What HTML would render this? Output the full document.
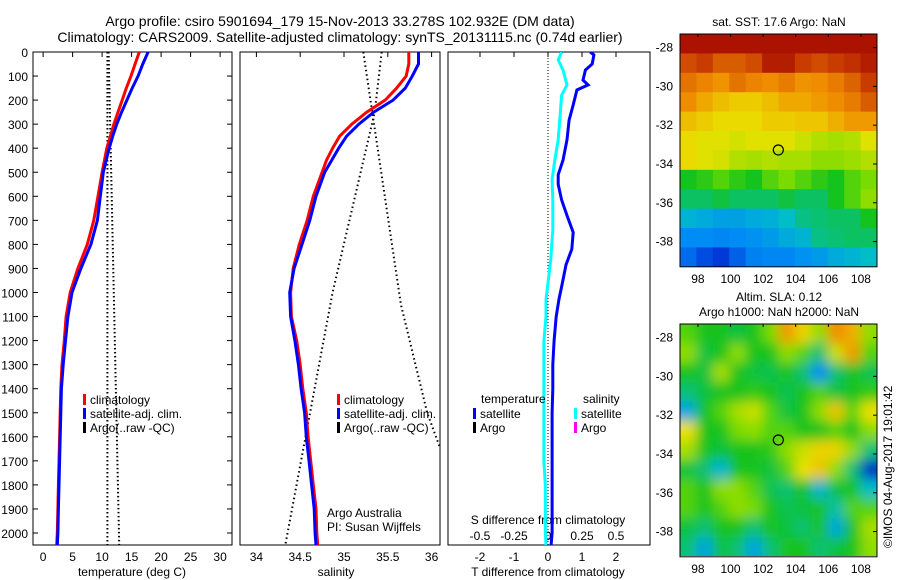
<!DOCTYPE html>
<html><head><meta charset="utf-8">
<style>
html,body{margin:0;padding:0;background:#fff;}
svg{display:block;font-family:"Liberation Sans",sans-serif;}
</style></head>
<body>
<svg id="fig" width="900" height="580" viewBox="0 0 900 580">
<defs>
<clipPath id="c1"><rect x="33" y="52" width="199" height="493"/></clipPath>
<clipPath id="c2"><rect x="240" y="52" width="200" height="493"/></clipPath>
<clipPath id="c3"><rect x="448" y="52" width="202" height="493"/></clipPath>
<clipPath id="cm1"><rect x="680" y="34" width="197" height="233"/></clipPath>
<clipPath id="cm2"><rect x="680" y="324" width="197" height="232"/></clipPath>
<filter id="blur" x="-10%" y="-10%" width="120%" height="120%"><feGaussianBlur stdDeviation="6"/></filter>
</defs>
<text x="340" y="26" text-anchor="middle" font-size="14">Argo profile: csiro 5901694_179 15-Nov-2013 33.278S 102.932E (DM data)</text>
<text x="340" y="42" text-anchor="middle" font-size="14">Climatology: CARS2009. Satellite-adjusted climatology: synTS_20131115.nc (0.74d earlier)</text>
<text x="779" y="26" text-anchor="middle" font-size="12">sat. SST: 17.6 Argo: NaN</text>
<text x="779" y="301" text-anchor="middle" font-size="12">Altim. SLA: 0.12</text>
<text x="779" y="316" text-anchor="middle" font-size="12">Argo h1000: NaN h2000: NaN</text>
<text x="0" y="0" transform="translate(892,548) rotate(-90)" font-size="12">©IMOS 04-Aug-2017 19:01:42</text>
<g id="g"></g>
</svg>
<script>
// ---------- data ----------
const depths = [0,50,100,150,200,250,300,350,400,450,500,600,700,800,900,1000,1100,1200,1300,1400,1500,1600,1700,1800,1900,2000,2050];
const tempClim = [16.3,15.6,14.9,14.1,13.4,12.7,12.0,11.4,10.8,10.4,10.0,9.3,8.6,7.5,5.9,4.6,3.9,3.6,3.2,3.0,2.9,2.8,2.7,2.6,2.5,2.4,2.3];
const tempSat  = [17.8,16.9,16.1,15.1,14.2,13.3,12.5,11.8,11.2,10.7,10.2,9.7,9.2,8.1,6.4,4.9,4.2,3.8,3.4,3.1,3.0,2.9,2.8,2.7,2.6,2.5,2.4];
const salClim = [35.74,35.74,35.71,35.60,35.47,35.26,35.09,34.95,34.87,34.80,34.75,34.65,34.58,34.49,34.42,34.39,34.40,34.46,34.50,34.53,34.57,34.59,34.62,34.65,34.68,34.69,34.70];
const salSat  = [35.85,35.85,35.78,35.70,35.56,35.34,35.17,35.03,34.94,34.86,34.78,34.68,34.61,34.52,34.43,34.38,34.39,34.44,34.48,34.51,34.55,34.57,34.60,34.63,34.66,34.67,34.68];
const argoTDepths = [0,2050];
const argoT1 = [10.9,10.9];
const argoT2 = [11.1,12.9];
const argoSDepthsA = [0,250,1000,2050];
const argoSA = [35.43,35.35,34.87,34.33];
const argoSDepthsB = [0,1050,1500,1650];
const argoSB = [35.22,35.65,35.95,36.10];
const diffDepths = [0,12,50,75,117,137,158,220,283,365,450,510,550,615,680,750,820,885,970,1030,1100,1200,1300,1400,1500,1700,2000,2050];
const tDiffSat = [1.24,1.35,1.30,1.10,1.03,1.18,0.85,0.74,0.62,0.56,0.44,0.30,0.30,0.40,0.56,0.74,0.70,0.53,0.41,0.32,0.24,0.18,0.14,0.14,0.12,0.12,0.12,0.09];
const sDiffDepths = [0,33,75,137,180,260,365,450,530,615,740,865,1030,1100,1200,1700,1800,2000,2050];
const sDiffSat = [0.10,0.075,0.11,0.14,0.10,0.09,0.075,0.05,0.03,0.035,0.035,0.02,-0.015,-0.015,-0.03,-0.03,-0.02,-0.02,-0.015];
const depthTicks = [0,100,200,300,400,500,600,700,800,900,1000,1100,1200,1300,1400,1500,1600,1700,1800,1900,2000];
const tempTicks = [0,5,10,15,20,25,30];
const salTicks = [34,34.5,35,35.5,36];
const salTickLabels = ["34","34.5","35","35.5","36"];
const tDiffTicks = [-2,-1,0,1,2];
const sDiffTicks = [-0.5,-0.25,0,0.25,0.5];
const sDiffTickLabels = ["-0.5","-0.25","0","0.25","0.5"];
const latTicks = [-28,-30,-32,-34,-36,-38];
const lonTicks = [98,100,102,104,106,108];
const argoLon = 102.932, argoLat = -33.278;
const sstGrid = [
[0.97,0.97,0.97,0.97,0.97,0.97,0.97,0.97,0.97,0.97,0.97,0.97],
[0.88,0.9,0.86,0.86,0.88,0.95,0.95,0.9,0.88,0.9,0.92,0.95],
[0.83,0.81,0.79,0.83,0.81,0.8,0.82,0.79,0.8,0.82,0.85,0.9],
[0.8,0.76,0.73,0.71,0.71,0.73,0.76,0.76,0.78,0.8,0.82,0.86],
[0.73,0.71,0.69,0.69,0.69,0.71,0.71,0.72,0.72,0.75,0.78,0.78],
[0.69,0.67,0.67,0.66,0.67,0.67,0.67,0.65,0.63,0.62,0.63,0.67],
[0.69,0.67,0.66,0.63,0.62,0.63,0.62,0.62,0.6,0.6,0.61,0.63],
[0.5,0.52,0.55,0.52,0.5,0.55,0.58,0.55,0.52,0.5,0.55,0.58],
[0.46,0.46,0.48,0.46,0.46,0.46,0.48,0.46,0.46,0.5,0.55,0.6],
[0.38,0.36,0.34,0.34,0.36,0.37,0.4,0.44,0.45,0.46,0.46,0.5],
[0.3,0.3,0.29,0.3,0.31,0.33,0.36,0.38,0.44,0.45,0.46,0.46],
[0.24,0.18,0.14,0.22,0.28,0.29,0.29,0.31,0.33,0.36,0.38,0.4]];
const slaGrid = [
[0.55,0.5,0.5,0.48,0.5,0.58,0.78,0.7,0.6,0.8,0.75,0.6],
[0.6,0.48,0.5,0.6,0.5,0.5,0.6,0.55,0.45,0.65,0.78,0.55],
[0.5,0.48,0.62,0.5,0.48,0.47,0.5,0.45,0.3,0.45,0.5,0.47],
[0.45,0.48,0.5,0.5,0.52,0.5,0.47,0.5,0.55,0.48,0.5,0.52],
[0.35,0.5,0.55,0.62,0.65,0.55,0.48,0.5,0.6,0.72,0.55,0.68],
[0.68,0.5,0.5,0.58,0.6,0.55,0.55,0.5,0.5,0.55,0.5,0.6],
[0.62,0.5,0.48,0.5,0.5,0.52,0.6,0.65,0.7,0.7,0.6,0.45],
[0.48,0.45,0.38,0.5,0.5,0.48,0.55,0.68,0.72,0.6,0.45,0.1],
[0.55,0.5,0.6,0.6,0.55,0.47,0.45,0.5,0.38,0.48,0.5,0.4],
[0.55,0.5,0.55,0.6,0.58,0.5,0.47,0.48,0.5,0.42,0.55,0.55],
[0.48,0.45,0.5,0.5,0.45,0.5,0.48,0.45,0.5,0.35,0.5,0.62],
[0.45,0.35,0.48,0.45,0.35,0.45,0.5,0.5,0.45,0.48,0.5,0.6]];

// ---------- helpers ----------
const NS = "http://www.w3.org/2000/svg";
const root = document.getElementById('g');
function mk(tag, attrs, parent){ const e=document.createElementNS(NS,tag); for(const k in attrs) e.setAttribute(k,attrs[k]); (parent||root).appendChild(e); return e; }
const Y = d => 52 + d*0.2405;
const xT = t => 43.1 + t*5.9;
const xS = s => 256.4 + (s-34)*87.6;
const xTD = v => 548 + v*34;
const xSD = v => 548 + v*136;
const lonX = lon => 680 + (lon-96.9)*16.3;
const latY1 = lat => 34 + (-27.3-lat)*19.4;
const latY2 = lat => 324 + (-27.3-lat)*19.4;
function pts(xs, ds, fx){ return xs.map((v,i)=>fx(v).toFixed(1)+','+Y(ds[i]).toFixed(1)).join(' '); }
function stops(v){
  const s=[[0,[0,16,150]],[0.15,[0,60,220]],[0.3,[0,140,245]],[0.4,[0,190,200]],[0.5,[20,195,30]],[0.58,[120,220,0]],[0.68,[235,225,0]],[0.8,[240,140,0]],[0.9,[200,60,0]],[1,[160,0,0]]];
  v=Math.max(0,Math.min(1,v));
  for(let i=1;i<s.length;i++){ if(v<=s[i][0]){ const f=(v-s[i-1][0])/(s[i][0]-s[i-1][0]); const a=s[i-1][1],b=s[i][1]; return 'rgb('+a.map((c,j)=>Math.round(c+(b[j]-c)*f)).join(',')+')'; } }
  return 'rgb(160,0,0)';
}

// ---------- profile panels ----------
const panels = [[33,232,'panel-temperature'],[240,440,'panel-salinity'],[448,650,'panel-difference']];
panels.forEach(p=>{
  const r = mk('rect',{x:p[0],y:52,width:p[1]-p[0],height:493,fill:'none',stroke:'#000','stroke-width':1});
  
  
});
depthTicks.forEach(d=>{
  const t = mk('text',{x:28,y:Y(d)+5,'text-anchor':'end','font-size':12});
  t.textContent = d;
  
  
  mk('line',{x1:33,x2:38,y1:Y(d),y2:Y(d),stroke:'#000'});
  mk('line',{x1:227,x2:232,y1:Y(d),y2:Y(d),stroke:'#000'});
});
function xticks(vals, labels, fx, y, ytext){
  vals.forEach((v,i)=>{
    mk('line',{x1:fx(v),x2:fx(v),y1:52,y2:57,stroke:'#000'});
    const t = mk('text',{x:fx(v),y:ytext,'text-anchor':'middle','font-size':12});
    t.textContent = labels[i];
    
    
  });
}
xticks(tempTicks, tempTicks.map(String), xT, 545, 561);
xticks(salTicks, salTickLabels, xS, 545, 561);
xticks(tDiffTicks, tDiffTicks.map(String), xTD, 545, 561);
sDiffTicks.forEach((v,i)=>{
  const t = mk('text',{x:xSD(v),y:540,'text-anchor':'middle','font-size':12});
  t.textContent = sDiffTickLabels[i];
  
  
});
[['temperature (deg C)',132,'temperature-axis-title'],['salinity',336,'salinity-axis-title'],['T difference from climatology',548,'t-diff-axis-title']].forEach(a=>{
  const t = mk('text',{x:a[1],y:576,'text-anchor':'middle','font-size':12});
  t.textContent=a[0];
  
  
});
{
  const t = mk('text',{x:548,y:524,'text-anchor':'middle','font-size':12});
  t.textContent='S difference from climatology';
  
  
}

const g1 = mk('g',{'clip-path':'url(#c1)'});
function line(parent, xs, ds, fx, color, w, dash, name){
  const e = mk('polyline',{points:pts(xs,ds,fx),fill:'none',stroke:color,'stroke-width':w,'stroke-dasharray':dash||'none'},parent);
  
  
  return e;
}
line(g1, argoT1, argoTDepths, xT, '#000', 2, '1.5,2.5', 'argo-temperature-line-1');
line(g1, argoT2, argoTDepths, xT, '#000', 2, '1.5,2.5', 'argo-temperature-line-2');
line(g1, tempClim, depths, xT, '#f00', 3, null, 'temperature-climatology-line');
line(g1, tempSat, depths, xT, '#00f', 3, null, 'temperature-satellite-line');
const g2 = mk('g',{'clip-path':'url(#c2)'});
line(g2, argoSA, argoSDepthsA, xS, '#000', 2, '1.5,3', 'argo-salinity-line-1');
line(g2, argoSB, argoSDepthsB, xS, '#000', 2, '1.5,3', 'argo-salinity-line-2');
line(g2, salClim, depths, xS, '#f00', 3, null, 'salinity-climatology-line');
line(g2, salSat, depths, xS, '#00f', 3, null, 'salinity-satellite-line');
const g3 = mk('g',{'clip-path':'url(#c3)'});
{
  const z = mk('line',{x1:xTD(0),x2:xTD(0),y1:52,y2:545,stroke:'#000','stroke-width':1,'stroke-dasharray':'1,2'},g3);
  
  
}
line(g3, sDiffSat, sDiffDepths, xSD, '#0ff', 3, null, 'salinity-difference-line');
line(g3, tDiffSat, diffDepths, xTD, '#00f', 3, null, 'temperature-difference-line');

function legend(x, y, color, label, name){
  const m = mk('rect',{x:x,y:y-9,width:3,height:11,fill:color});
  
  
  const t = mk('text',{x:x+7,y:y+1,'font-size':12});
  t.textContent = label;
  
  
}
[[83,'climatology','legend-t-climatology'],[83,'satellite-adj. clim.','legend-t-satellite'],[83,'Argo(..raw -QC)','legend-t-argo']].forEach((l,i)=>legend(l[0],403+i*14,['#f00','#00f','#000'][i],l[1],l[2]));
[[337,'climatology','legend-s-climatology'],[337,'satellite-adj. clim.','legend-s-satellite'],[337,'Argo(..raw -QC)','legend-s-argo']].forEach((l,i)=>legend(l[0],403+i*14,['#f00','#00f','#000'][i],l[1],l[2]));
legend(473,417,'#00f','satellite','legend-diff-t-satellite');
legend(473,431,'#000','Argo','legend-diff-t-argo');
legend(574,417,'#0ff','satellite','legend-diff-s-satellite');
legend(574,431,'#f0f','Argo','legend-diff-s-argo');
[['temperature',481,403,'legend-temperature-header'],['salinity',583,403,'legend-salinity-header'],['Argo Australia',327,517,'argo-australia-label'],['PI: Susan Wijffels',327,531,'pi-label']].forEach(a=>{
  const t = mk('text',{x:a[1],y:a[2],'font-size':12});
  t.textContent=a[0];
  
  
});

// ---------- maps ----------
function map(grid, latY, top, clip, blur, name){
  const outer = mk('g',{'clip-path':'url(#'+clip+')'});
  const inner = mk('g', blur?{filter:'url(#blur)'}:{}, outer);
  const rows = grid.length, cols = grid[0].length;
  const cw = 197/cols, ch = (latY(-39.3)-latY(-27.3))/rows;
  grid.forEach((row,i)=>row.forEach((v,j)=>{
    let x = 680 + j*cw, y = top + i*ch, w = cw+0.6, h = ch+0.6;
    if(blur){ if(j===0){x-=20;w+=20;} if(j===cols-1){w+=20;} if(i===0){y-=20;h+=20;} if(i===rows-1){h+=20;} }
    const c = mk('rect',{x:x,y:y,width:w,height:h,fill:stops(v)},inner);
    
    
  }));
  const f = mk('rect',{x:680,y:top,width:197,height:latY(-39.3)-top,fill:'none',stroke:'#000'});
  
  
  const bottom = latY(-39.3);
  latTicks.forEach(l=>{
    const t = mk('text',{x:673,y:latY(l)+4,'text-anchor':'end','font-size':12});
    t.textContent = l;
    
    
    mk('line',{x1:877,x2:873,y1:latY(l),y2:latY(l),stroke:'#000'});
  });
  lonTicks.forEach(l=>{
    const t = mk('text',{x:lonX(l),y:bottom+16,'text-anchor':'middle','font-size':12});
    t.textContent = l;
    
    
    mk('line',{x1:lonX(l),x2:lonX(l),y1:top,y2:top+3,stroke:'#000'});
  });
  const c = mk('circle',{cx:lonX(argoLon),cy:latY(argoLat),r:5,fill:'none',stroke:'#000','stroke-width':1.2});
  
  
}
map(sstGrid, latY1, 34, 'cm1', false, 'sst-map');
map(slaGrid, latY2, 324, 'cm2', true, 'sla-map');
</script>
</body></html>
